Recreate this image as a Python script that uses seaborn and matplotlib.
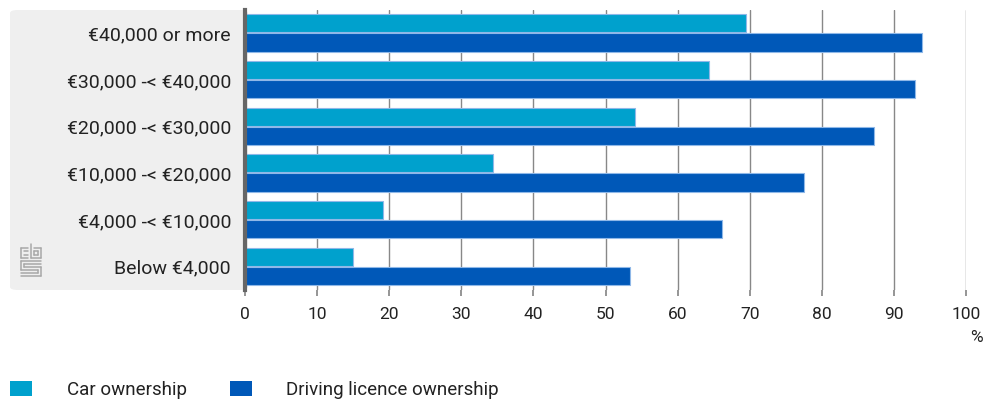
import matplotlib
matplotlib.use("Agg")
import matplotlib.pyplot as plt
import seaborn as sns
import pandas as pd
from matplotlib.patches import FancyBboxPatch, Patch

categories = ["€40,000 or more", "€30,000 -< €40,000", "€20,000 -< €30,000",
              "€10,000 -< €20,000", "€4,000 -< €10,000", "Below €4,000"]
car_ownership = [69.5, 64.4, 54.1, 34.4, 19.1, 15.0]
licence_ownership = [93.9, 92.9, 87.2, 77.5, 66.2, 53.4]
series = ["Car ownership", "Driving licence ownership"]
x_ticks = [0, 10, 20, 30, 40, 50, 60, 70, 80, 90, 100]
colors = ["#00a1cd", "#0058b8"]

df = pd.DataFrame({
    "category": categories * 2,
    "value": car_ownership + licence_ownership,
    "series": [series[0]] * len(categories) + [series[1]] * len(categories),
})

sns.set_theme(style="white")
plt.rcParams["font.family"] = ["Roboto", "DejaVu Sans"]

fig = plt.figure(figsize=(9.9, 4.01), dpi=100)
# grey label panel
panel = FancyBboxPatch((10 / 990, 111 / 401), 238 / 990, 280 / 401,
                       boxstyle="round,pad=0,rounding_size=0.008",
                       transform=fig.transFigure, facecolor="#efefef",
                       edgecolor="none", zorder=-10)
fig.patches.append(panel)

ax = fig.add_axes([245 / 990, 111 / 401, 721 / 990, 280 / 401])
ax.set_facecolor("none")
sns.barplot(data=df, y="category", x="value", hue="series", orient="h",
            palette=colors, saturation=1, width=0.82, ax=ax, legend=False,
            edgecolor="#8fb8e8", linewidth=0.8, zorder=3)
for p in ax.patches:
    p.set_height(0.39)

ax.set_xlim(0, 100)
ax.set_ylim(5.5, -0.5)
ax.set_xticks(x_ticks)
ax.set_xticklabels([str(t) for t in x_ticks], fontsize=12.5, color="#222222")
ax.set_yticks(range(len(categories)))
ax.set_yticklabels(categories, fontsize=14, color="#222222")
ax.set_xlabel("")
ax.set_ylabel("")
ax.grid(axis="x", color="#888888", linewidth=1, zorder=0)
ax.grid(axis="y", visible=False)
ax.tick_params(axis="y", length=0, pad=10)
ax.tick_params(axis="x", length=4, color="#888888", pad=8, bottom=True)
for s in ["top", "right", "bottom"]:
    ax.spines[s].set_visible(False)
ax.spines["left"].set_color("#666666")
ax.spines["left"].set_linewidth(3)
ax.spines["left"].set_zorder(5)

fig.text(976 / 990, 1 - 338 / 401, "%", ha="center", va="center",
         fontsize=12.5, color="#222222")

# cbs logo (decoration)
lc = "#a8a8a8"
lx, ly = 21, 262
def seg(x0, y0, x1, y1):
    fig.add_artist(plt.Line2D([(lx + x0) / 990, (lx + x1) / 990],
                              [1 - (ly + y0) / 401, 1 - (ly + y1) / 401],
                              color=lc, lw=1.1, transform=fig.transFigure))
seg(0, -14, 0, -4); seg(0, -14, 7, -14); seg(0, -4, 7, -4); seg(3, -11, 7, -11); seg(3, -7, 7, -7)
seg(10, -18, 10, -4); seg(10, -4, 20, -4); seg(20, -4, 20, -14); seg(20, -14, 13, -14); seg(13, -11, 17, -11); seg(17, -11, 17, -7); seg(17, -7, 13, -7); seg(13, -7, 13, -11)
seg(0, -1, 20, -1); seg(0, -1, 0, 8); seg(0, 8, 17, 8); seg(17, 8, 17, 11); seg(17, 11, 0, 11); seg(0, 14, 20, 14); seg(20, 14, 20, 5); seg(20, 5, 3, 5); seg(3, 5, 3, 2); seg(3, 2, 20, 2)

handles = [Patch(facecolor=colors[0], edgecolor="none"),
           Patch(facecolor=colors[1], edgecolor="none")]
fig.legend(handles, series, loc="center left", bbox_to_anchor=(10 / 990, 1 - 390 / 401),
           ncol=2, frameon=False, fontsize=13.5, handlelength=1.17, handleheight=0.8,
           handletextpad=1.85, columnspacing=2.3, borderpad=0, borderaxespad=0,
           labelcolor="#222222")

fig.savefig("out.png", dpi=100)
